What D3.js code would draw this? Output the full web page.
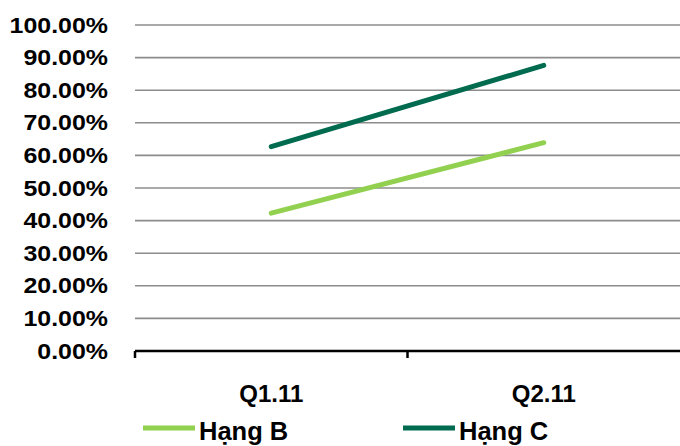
<!DOCTYPE html>
<html><head><meta charset="utf-8">
<script src="https://cdn.jsdelivr.net/npm/d3@7"></script>
<style>body{margin:0;background:#fff;} svg{display:block;font-family:"Liberation Sans",Arial,sans-serif;font-weight:bold;}</style>
</head><body><svg id="c" width="680" height="446"></svg>
<script>
const categories = ["Q1.11", "Q2.11"];
const seriesNames = ["Hạng B", "Hạng C"];
const hangB = [0.423, 0.639];
const hangC = [0.627, 0.876];
const yTicks = [0, 0.1, 0.2, 0.3, 0.4, 0.5, 0.6, 0.7, 0.8, 0.9, 1.0];
const colors = ["#92D050", "#006B4E"];

const svg = d3.select("#c");
const plotLeft = 135, plotRight = 680, plotTop = 25, plotBottom = 351;
const x = d3.scaleBand().domain(categories).range([plotLeft, plotRight]);
const y = d3.scaleLinear().domain([0, 1]).range([plotBottom, plotTop]);

// gridlines
svg.append("g").selectAll("line").data(yTicks.filter(d => d > 0)).join("line")
  .attr("x1", plotLeft).attr("x2", plotRight)
  .attr("y1", d => y(d)).attr("y2", d => y(d))
  .attr("stroke", "#8c8c8c").attr("stroke-width", 1.6);

// y labels
svg.append("g").selectAll("text").data(yTicks).join("text")
  .attr("transform", d => `translate(108,${y(d) + 7.5}) scale(1.16,1)`)
  .attr("text-anchor", "end").attr("font-size", 21.5).attr("fill", "#000")
  .text(d => d3.format(".2%")(d));

// x axis
const xAxisLine = svg.append("g");
xAxisLine.append("line").attr("x1", plotLeft).attr("x2", plotRight).attr("y1", plotBottom).attr("y2", plotBottom)
  .attr("stroke", "#000").attr("stroke-width", 2.5);
const tickPos = [plotLeft].concat(categories.map(c => x(c) + x.bandwidth())).filter(v => v < plotRight);
xAxisLine.selectAll("line.t").data(tickPos).join("line").attr("class", "t")
  .attr("x1", d => d).attr("x2", d => d).attr("y1", plotBottom).attr("y2", plotBottom + 7)
  .attr("stroke", "#000").attr("stroke-width", 2.5);
svg.append("g").selectAll("text").data(categories).join("text")
  .attr("x", d => x(d) + x.bandwidth() / 2).attr("y", 402)
  .attr("text-anchor", "middle").attr("font-size", 24).text(d => d);

// lines
const line = d3.line().x((d, i) => x(categories[i]) + x.bandwidth() / 2).y(d => y(d));
[hangB, hangC].forEach((s, i) => {
  svg.append("path").datum(s).attr("d", line).attr("fill", "none")
    .attr("stroke", colors[i]).attr("stroke-width", 5).attr("stroke-linecap", "round");
});

// legend
const legX = [143, 403];
seriesNames.forEach((n, i) => {
  const g = svg.append("g");
  g.append("line").attr("x1", legX[i]).attr("x2", legX[i] + 52).attr("y1", 428).attr("y2", 428)
    .attr("stroke", colors[i]).attr("stroke-width", 5);
  g.append("text").attr("x", legX[i] + 56).attr("y", 440).attr("font-size", 25.5).text(n);
});
</script></body></html>
